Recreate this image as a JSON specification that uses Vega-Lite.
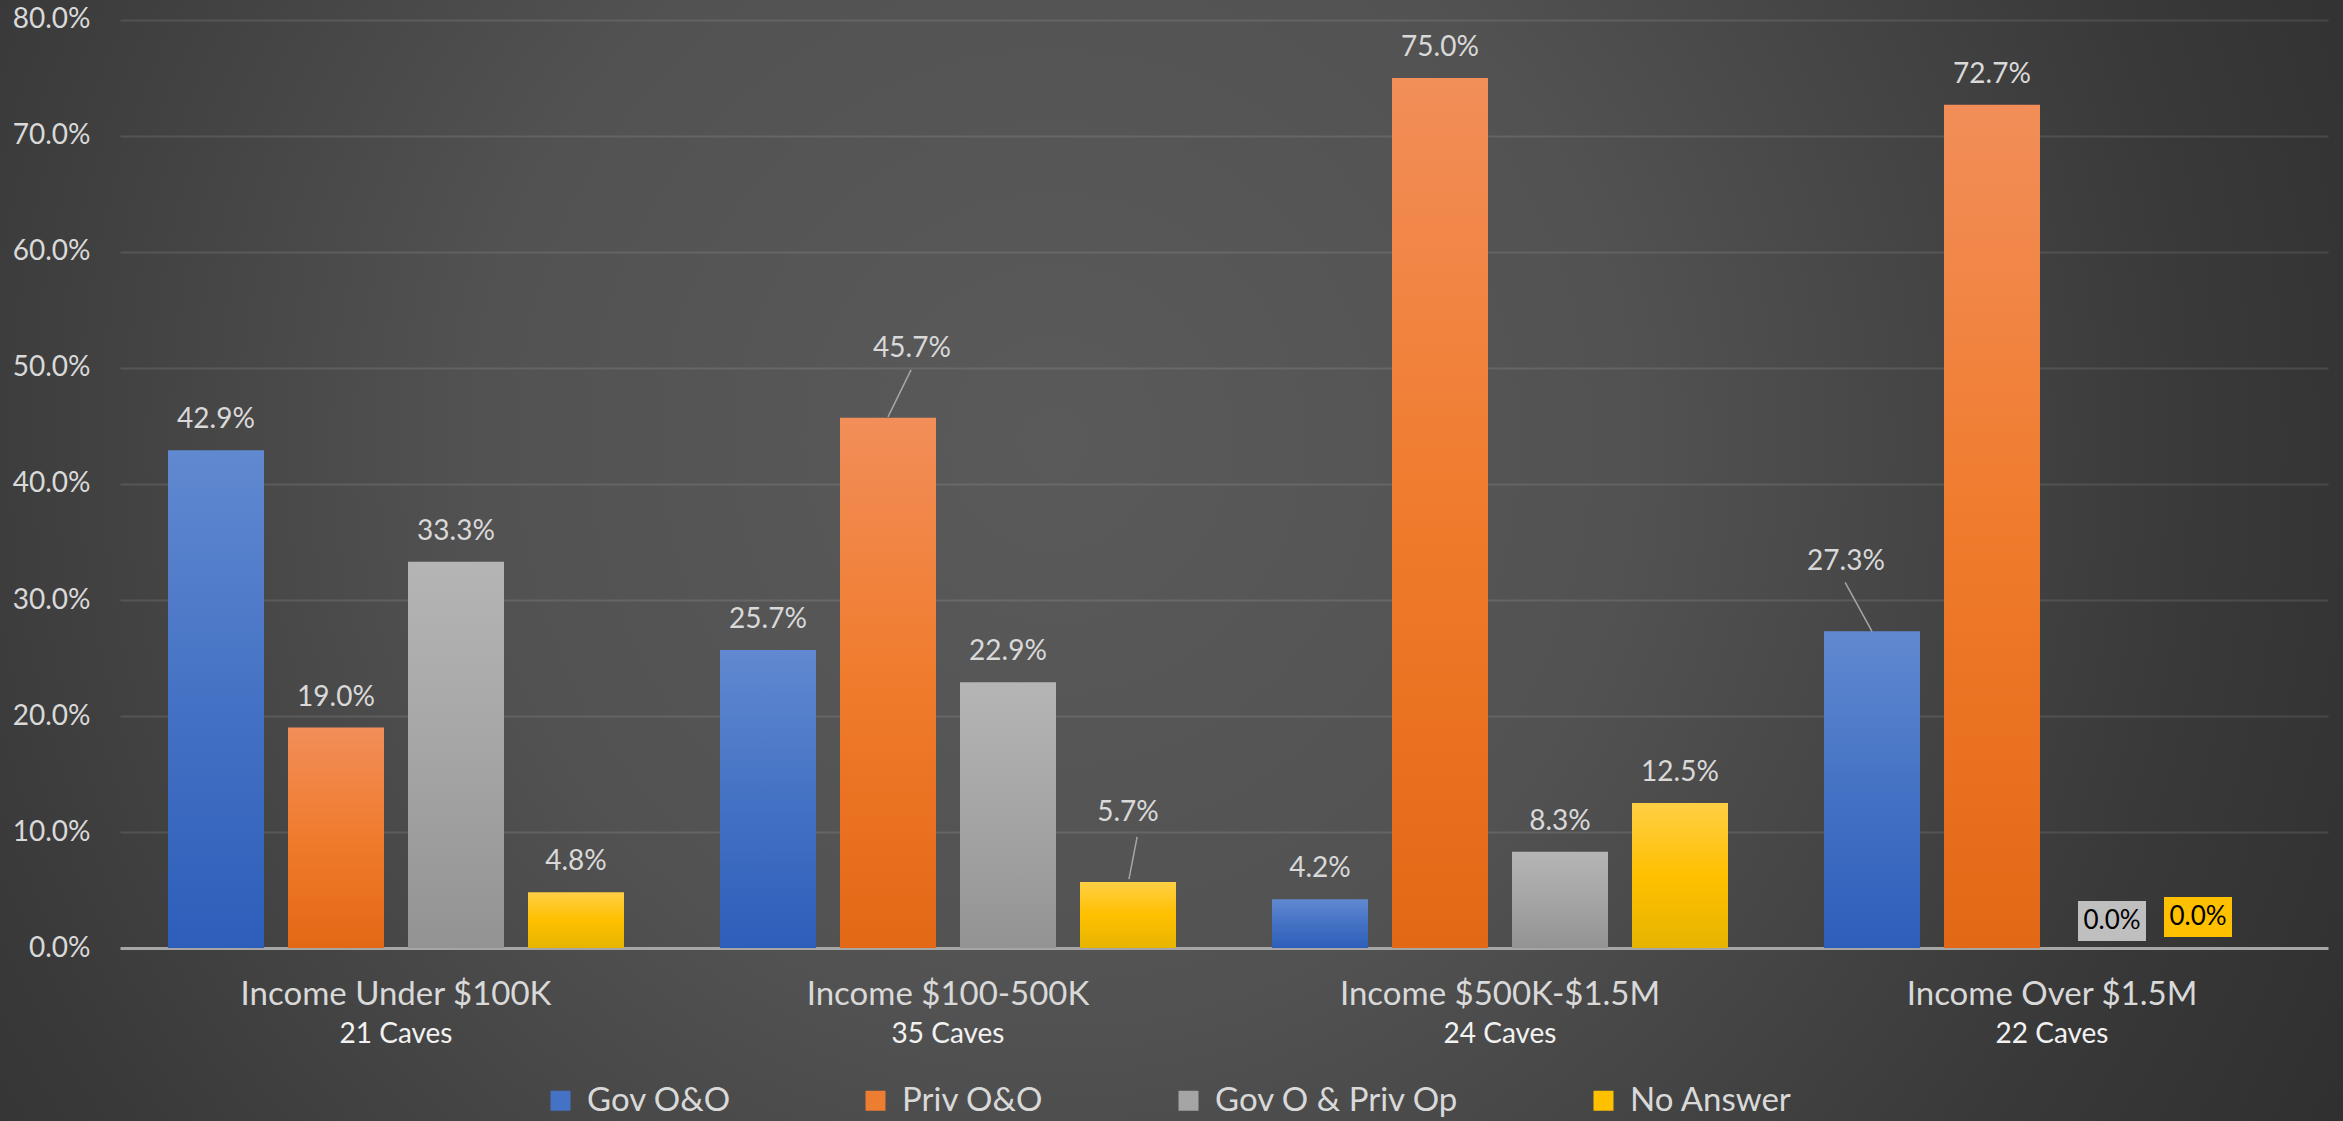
{
  "$schema": "https://vega.github.io/schema/vega-lite/v6.json",
  "width": 2343,
  "height": 1121,
  "autosize": {"type": "none"},
  "padding": 0,
  "background": "#2a2a2a",
  "config": {
    "font": "Lato",
    "view": {
      "stroke": null,
      "fill": {
        "gradient": "radial",
        "x1": 0.45, "y1": 0.45, "r1": 0,
        "x2": 0.45, "y2": 0.45, "r2": 0.7,
        "stops": [
          {"offset": 0, "color": "#5a5a5a"},
          {"offset": 0.35, "color": "#525252"},
          {"offset": 0.7, "color": "#393939"},
          {"offset": 1, "color": "#2a2a2a"}
        ]
      }
    }
  },
  "data": {
    "values": [
      {"income": "Income Under $100K", "caves": "21 Caves", "series": "Gov O&O", "value": 0.429},
      {"income": "Income Under $100K", "caves": "21 Caves", "series": "Priv O&O", "value": 0.190},
      {"income": "Income Under $100K", "caves": "21 Caves", "series": "Gov O & Priv Op", "value": 0.333},
      {"income": "Income Under $100K", "caves": "21 Caves", "series": "No Answer", "value": 0.048},
      {"income": "Income $100-500K", "caves": "35 Caves", "series": "Gov O&O", "value": 0.257},
      {"income": "Income $100-500K", "caves": "35 Caves", "series": "Priv O&O", "value": 0.457},
      {"income": "Income $100-500K", "caves": "35 Caves", "series": "Gov O & Priv Op", "value": 0.229},
      {"income": "Income $100-500K", "caves": "35 Caves", "series": "No Answer", "value": 0.057},
      {"income": "Income $500K-$1.5M", "caves": "24 Caves", "series": "Gov O&O", "value": 0.042},
      {"income": "Income $500K-$1.5M", "caves": "24 Caves", "series": "Priv O&O", "value": 0.750},
      {"income": "Income $500K-$1.5M", "caves": "24 Caves", "series": "Gov O & Priv Op", "value": 0.083},
      {"income": "Income $500K-$1.5M", "caves": "24 Caves", "series": "No Answer", "value": 0.125},
      {"income": "Income Over $1.5M", "caves": "22 Caves", "series": "Gov O&O", "value": 0.273},
      {"income": "Income Over $1.5M", "caves": "22 Caves", "series": "Priv O&O", "value": 0.727},
      {"income": "Income Over $1.5M", "caves": "22 Caves", "series": "Gov O & Priv Op", "value": 0.0},
      {"income": "Income Over $1.5M", "caves": "22 Caves", "series": "No Answer", "value": 0.0}
    ]
  },
  "encoding": {
    "x": {
      "field": "income",
      "type": "nominal",
      "sort": null,
      "scale": {"paddingInner": 0, "paddingOuter": 0.122283, "align": 0.8889},
      "axis": {
        "orient": "bottom",
        "offset": -173,
        "title": null,
        "domain": false,
        "ticks": false,
        "grid": false,
        "labelAngle": 0,
        "labelLimit": 0,
        "labelFont": "Lato",
        "labelFontSize": 33,
        "labelColor": "#d9d9d9",
        "labelPadding": 30
      }
    },
    "y": {
      "field": "value",
      "type": "quantitative",
      "scale": {"domain": [-0.1491, 0.8172], "nice": false, "zero": false},
      "axis": {
        "orient": "left",
        "offset": -120,
        "title": null,
        "values": [0, 0.1, 0.2, 0.3, 0.4, 0.5, 0.6, 0.7, 0.8],
        "format": ".1%",
        "domain": false,
        "ticks": false,
        "labelPadding": 30,
        "labelFont": "Lato",
        "labelFontSize": 28,
        "labelColor": "#d9d9d9",
        "grid": true,
        "gridColor": {"condition": {"test": "datum.value === 0", "value": "#a6a6a6"}, "value": "#ffffff"},
        "gridOpacity": {"condition": {"test": "datum.value === 0", "value": 1}, "value": 0.1},
        "gridWidth": {"condition": {"test": "datum.value === 0", "value": 3}, "value": 2},
        "gridDash": [0, 120, 2208, 15]
      }
    }
  },
  "layer": [
    {
      "mark": {"type": "bar", "opacity": 0},
      "encoding": {
        "xOffset": {"field": "series", "type": "nominal", "sort": ["Gov O&O", "Priv O&O", "Gov O & Priv Op", "No Answer"], "scale": {"paddingInner": 0.2, "paddingOuter": 0.4}},
        "color": {
          "field": "series",
          "type": "nominal",
          "scale": {
            "domain": ["Gov O&O", "Priv O&O", "Gov O & Priv Op", "No Answer"],
            "range": ["#4472c4", "#ed7d31", "#a5a5a5", "#ffc000"]
          },
          "legend": {
            "orient": "none",
            "legendX": 544,
            "legendY": 1084,
            "direction": "horizontal",
            "columns": 4,
            "title": null,
            "padding": 0,
            "symbolType": "square",
            "symbolSize": 400,
            "symbolStrokeWidth": 0,
            "symbolOpacity": 1,
            "labelFont": "Lato",
            "labelFontSize": 33,
            "labelLimit": 0,
            "labelColor": "#d9d9d9",
            "labelOffset": 10,
            "columnPadding": 128
          }
        }
      }
    },
    {
      "transform": [{"filter": "datum.series === 'Gov O&O'"}],
      "mark": {"type": "bar", "fill": {"gradient": "linear", "x1": 0, "y1": 0, "x2": 0, "y2": 1, "stops": [{"offset": 0, "color": "#6189d1"}, {"offset": 0.5, "color": "#4472c4"}, {"offset": 1, "color": "#2d5eba"}]}},
      "encoding": {
        "xOffset": {"field": "series", "type": "nominal", "sort": ["Gov O&O", "Priv O&O", "Gov O & Priv Op", "No Answer"], "scale": {"paddingInner": 0.2, "paddingOuter": 0.4}}
      }
    },
    {
      "transform": [{"filter": "datum.series === 'Priv O&O'"}],
      "mark": {"type": "bar", "fill": {"gradient": "linear", "x1": 0, "y1": 0, "x2": 0, "y2": 1, "stops": [{"offset": 0, "color": "#f28e59"}, {"offset": 0.5, "color": "#f07b2c"}, {"offset": 1, "color": "#e36816"}]}},
      "encoding": {
        "xOffset": {"field": "series", "type": "nominal", "sort": ["Gov O&O", "Priv O&O", "Gov O & Priv Op", "No Answer"], "scale": {"paddingInner": 0.2, "paddingOuter": 0.4}}
      }
    },
    {
      "transform": [{"filter": "datum.series === 'Gov O & Priv Op'"}],
      "mark": {"type": "bar", "fill": {"gradient": "linear", "x1": 0, "y1": 0, "x2": 0, "y2": 1, "stops": [{"offset": 0, "color": "#b5b5b5"}, {"offset": 0.5, "color": "#a5a5a5"}, {"offset": 1, "color": "#939393"}]}},
      "encoding": {
        "xOffset": {"field": "series", "type": "nominal", "sort": ["Gov O&O", "Priv O&O", "Gov O & Priv Op", "No Answer"], "scale": {"paddingInner": 0.2, "paddingOuter": 0.4}}
      }
    },
    {
      "transform": [{"filter": "datum.series === 'No Answer'"}],
      "mark": {"type": "bar", "fill": {"gradient": "linear", "x1": 0, "y1": 0, "x2": 0, "y2": 1, "stops": [{"offset": 0, "color": "#ffcf45"}, {"offset": 0.5, "color": "#ffc000"}, {"offset": 1, "color": "#e6b400"}]}},
      "encoding": {
        "xOffset": {"field": "series", "type": "nominal", "sort": ["Gov O&O", "Priv O&O", "Gov O & Priv Op", "No Answer"], "scale": {"paddingInner": 0.2, "paddingOuter": 0.4}}
      }
    },
    {
      "transform": [{"filter": "datum.value === 0.457 || datum.value === 0.057 || datum.value === 0.273"}],
      "mark": {"type": "point", "filled": false, "size": 9216, "stroke": "#a6a6a6", "strokeWidth": 1.5, "opacity": 1},
      "encoding": {
        "xOffset": {"field": "series", "type": "nominal", "sort": ["Gov O&O", "Priv O&O", "Gov O & Priv Op", "No Answer"], "scale": {"paddingInner": 0.2, "paddingOuter": 0.4}},
        "shape": {
          "condition": [
            {"test": "datum.value === 0.457", "value": "M0,-0.02L0.48,-1"},
            {"test": "datum.value === 0.057", "value": "M0.02,-0.06L0.19,-0.94"}
          ],
          "value": "M0,0L-0.56,-1.02"
        }
      }
    },
    {
      "transform": [{"filter": "datum.value > 0"}],
      "mark": {
        "type": "text", "baseline": "alphabetic", "fontSize": 28, "font": "Lato", "color": "#d9d9d9",
        "dx": {"expr": "datum.value === 0.457 ? 24 : datum.value === 0.273 ? -26 : 0"},
        "dy": {"expr": "(datum.value === 0.457 || datum.value === 0.057 || datum.value === 0.273) ? -61 : -22"}
      },
      "encoding": {
        "xOffset": {"field": "series", "type": "nominal", "sort": ["Gov O&O", "Priv O&O", "Gov O & Priv Op", "No Answer"], "scale": {"paddingInner": 0.2, "paddingOuter": 0.4}},
        "text": {"field": "value", "type": "quantitative", "format": ".1%"}
      }
    },
    {
      "transform": [{"filter": "datum.value === 0"}],
      "mark": {
        "type": "point", "filled": true, "size": 1600, "opacity": 1, "strokeWidth": 0,
        "yOffset": {"expr": "datum.series === 'No Answer' ? -31 : -27"}
      },
      "encoding": {
        "xOffset": {"field": "series", "type": "nominal", "sort": ["Gov O&O", "Priv O&O", "Gov O & Priv Op", "No Answer"], "scale": {"paddingInner": 0.2, "paddingOuter": 0.4}},
        "shape": {"condition": {"test": "datum.series === 'No Answer'", "value": "M-3.4,-1H0V1H-3.4Z"}, "value": "M-1.7,-1H1.7V1H-1.7Z"},
        "fill": {"condition": {"test": "datum.series === 'No Answer'", "value": "#ffc000"}, "value": "#bfbfbf"}
      }
    },
    {
      "transform": [{"filter": "datum.value === 0"}],
      "mark": {
        "type": "text", "baseline": "middle", "fontSize": 26, "font": "Lato", "color": "#000000",
        "dx": {"expr": "datum.series === 'No Answer' ? -34 : 0"},
        "yOffset": {"expr": "datum.series === 'No Answer' ? -31 : -27"}
      },
      "encoding": {
        "xOffset": {"field": "series", "type": "nominal", "sort": ["Gov O&O", "Priv O&O", "Gov O & Priv Op", "No Answer"], "scale": {"paddingInner": 0.2, "paddingOuter": 0.4}},
        "text": {"field": "value", "type": "quantitative", "format": ".1%"}
      }
    },
    {
      "transform": [{"filter": "datum.series === 'Gov O&O'"}],
      "mark": {"type": "text", "baseline": "alphabetic", "dy": 95, "fontSize": 28, "font": "Lato", "color": "#f2f2f2"},
      "encoding": {
        "y": {"datum": 0},
        "text": {"field": "caves", "type": "nominal"}
      }
    }
  ]
}
